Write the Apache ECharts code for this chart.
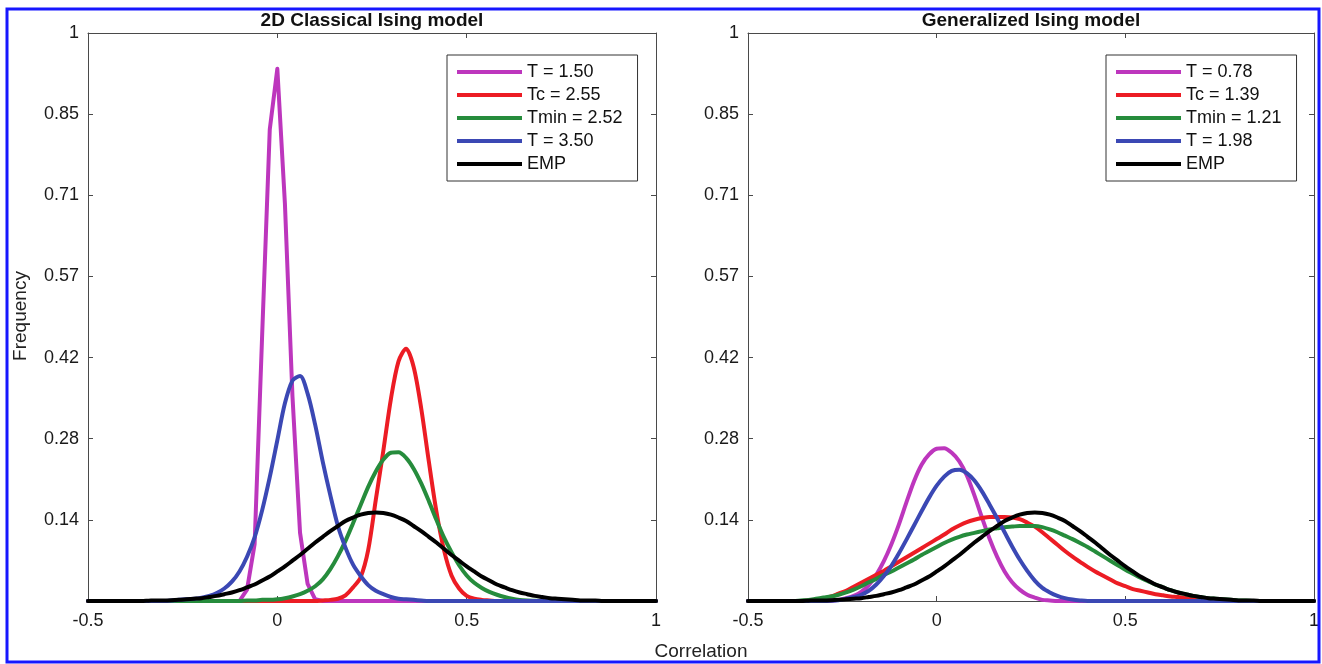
<!DOCTYPE html>
<html><head><meta charset="utf-8">
<script src="https://cdn.jsdelivr.net/npm/echarts@6/dist/echarts.min.js"></script>
<style>html,body{margin:0;padding:0;background:#fff}#c{width:1322px;height:664px}</style>
</head><body><div id="c"></div>
<script>
// ---------- data ----------
const corr = [
 -0.50,-0.48,-0.46,-0.44,-0.42,
 -0.40,-0.38,-0.36,-0.34,-0.32,
 -0.30,-0.28,-0.26,-0.24,-0.22,
 -0.20,-0.18,-0.16,-0.14,-0.12,
 -0.10,-0.08,-0.06,-0.04,-0.02,
 0.00,0.02,0.04,0.06,0.08,
 0.10,0.12,0.14,0.16,0.18,
 0.20,0.22,0.24,0.26,0.28,
 0.30,0.32,0.34,0.36,0.38,
 0.40,0.42,0.44,0.46,0.48,
 0.50,0.52,0.54,0.56,0.58,
 0.60,0.62,0.64,0.66,0.68,
 0.70,0.72,0.74,0.76,0.78,
 0.80,0.82,0.84,0.86,0.88,
 0.90,0.92,0.94,0.96,0.98,
 1.00];

const classicalT150 = [
 0,0,0,0,0, 0,0,0,0,0, 0,0,0,0,0, 0,0,0,0,0,
 0,0.02,0.10,0.47,0.83,
 0.937,0.70,0.36,0.12,0.03,
 0.003,0,0,0,0,
 0,0,0,0,0, 0,0,0,0,0, 0,0,0,0,0, 0,0,0,0,0,
 0,0,0,0,0, 0,0,0,0,0, 0,0,0,0,0, 0,0,0,0,0,
 0];
const classicalTc = [
 0,0,0,0,0, 0,0,0,0,0, 0,0,0,0,0, 0,0,0,0,0, 0,0,0,0,0,
 0,0,0,0,0,
 0,0.001,0.002,0.004,0.010,
 0.024,0.042,0.090,0.178,0.265,
 0.356,0.422,0.444,0.412,0.339,
 0.246,0.158,0.090,0.045,0.022,
 0.009,0.004,0.002,0.001,0,
 0,0,0,0,0, 0,0,0,0,0, 0,0,0,0,0, 0,0,0,0,0,
 0];
const classicalTmin = [
 0,0,0,0,0, 0,0,0,0,0, 0,0,0,0,0, 0,0,0,0,0,
 0,0.001,0.001,0.002,0.002,
 0.003,0.005,0.008,0.012,0.018,
 0.026,0.038,0.056,0.079,0.106,
 0.137,0.169,0.201,0.228,0.249,
 0.261,0.262,0.252,0.233,0.207,
 0.176,0.143,0.112,0.086,0.063,
 0.045,0.032,0.023,0.016,0.011,
 0.007,0.004,0.002,0.001,0.0005,
 0,0,0,0,0, 0,0,0,0,0, 0,0,0,0,0,
 0];
const classicalT350 = [
 0,0,0,0,0, 0,0,0,0,0,
 0,0.001,0.002,0.003,0.004,
 0.006,0.009,0.014,0.022,0.034,
 0.052,0.078,0.112,0.160,0.218,
 0.283,0.348,0.388,0.396,0.365,
 0.310,0.245,0.186,0.132,0.094,
 0.064,0.044,0.028,0.018,0.012,
 0.007,0.004,0.003,0.002,0.001,
 0,0,0,0,0, 0,0,0,0,0, 0,0,0,0,0, 0,0,0,0,0, 0,0,0,0,0, 0,0,0,0,0,
 0];
const empValues = [
 0,0,0,0,0,
 0,0,0,0.0005,0.001,
 0.001,0.0013,0.002,0.003,0.004,
 0.005,0.007,0.009,0.012,0.015,
 0.019,0.024,0.029,0.036,0.043,
 0.052,0.061,0.071,0.081,0.092,
 0.103,0.113,0.123,0.132,0.141,
 0.147,0.152,0.155,0.156,0.155,
 0.152,0.147,0.141,0.132,0.123,
 0.113,0.103,0.092,0.081,0.071,
 0.061,0.052,0.043,0.036,0.029,
 0.024,0.019,0.015,0.012,0.009,
 0.007,0.005,0.004,0.003,0.002,
 0.001,0.001,0.001,0,0,
 0,0,0,0,0,
 0];

const generalizedT078 = [
 0,0,0,0,0, 0,0,0,0,0,
 0,0.0005,0.002,0.005,0.009,
 0.016,0.028,0.046,0.070,0.100,
 0.135,0.174,0.211,0.240,0.258,
 0.268,0.269,0.261,0.246,0.221,
 0.186,0.147,0.110,0.078,0.052,
 0.033,0.020,0.011,0.006,0.002,
 0.001,0,0,0,0,
 0,0,0,0,0, 0,0,0,0,0, 0,0,0,0,0, 0,0,0,0,0, 0,0,0,0,0, 0,0,0,0,0,
 0];
const generalizedTc = [
 0,0,0,0,0,
 0,0,0,0.001,0.002,
 0.004,0.008,0.013,0.018,0.025,
 0.032,0.039,0.046,0.053,0.061,
 0.069,0.077,0.085,0.093,0.101,
 0.109,0.117,0.126,0.133,0.139,
 0.143,0.146,0.148,0.148,0.148,
 0.147,0.144,0.138,0.131,0.121,
 0.110,0.099,0.088,0.078,0.069,
 0.060,0.052,0.045,0.038,0.031,
 0.026,0.021,0.018,0.015,0.012,
 0.010,0.008,0.007,0.005,0.004,
 0.003,0.003,0.002,0.001,0.001,
 0,0,0,0,0,
 0,0,0,0,0,
 0];
const generalizedTmin = [
 0,0,0,0,0,
 0,0,0.001,0.002,0.004,
 0.006,0.008,0.011,0.015,0.020,
 0.026,0.033,0.039,0.046,0.052,
 0.059,0.066,0.073,0.081,0.088,
 0.095,0.102,0.108,0.113,0.117,
 0.120,0.123,0.126,0.128,0.130,
 0.131,0.132,0.132,0.132,0.130,
 0.126,0.121,0.115,0.109,0.102,
 0.095,0.087,0.079,0.071,0.063,
 0.055,0.048,0.041,0.035,0.029,
 0.024,0.019,0.015,0.012,0.009,
 0.007,0.005,0.004,0.003,0.002,
 0.001,0.001,0,0,0,
 0,0,0,0,0,
 0];
const generalizedT198 = [
 0,0,0,0,0, 0,0,0,0,0,
 0,0.0005,0.0015,0.004,0.007,
 0.011,0.018,0.029,0.044,0.062,
 0.084,0.108,0.133,0.158,0.182,
 0.203,0.219,0.229,0.231,0.225,
 0.212,0.193,0.170,0.146,0.121,
 0.096,0.073,0.053,0.036,0.023,
 0.015,0.009,0.005,0.0025,0.001,
 0,0,0,0,0, 0,0,0,0,0, 0,0,0,0,0, 0,0,0,0,0, 0,0,0,0,0, 0,0,0,0,0,
 0];

const yTickLabels = ['', '0.14', '0.28', '0.42', '0.57', '0.71', '0.85', '1'];
const panelTitles = ['2D Classical Ising model', 'Generalized Ising model'];
const leftNames = ['T = 1.50', 'Tc = 2.55', 'Tmin = 2.52', 'T = 3.50', 'EMP'];
const rightNames = ['T = 0.78', 'Tc = 1.39', 'Tmin = 1.21', 'T = 1.98', 'EMP'];
const leftValues = [classicalT150, classicalTc, classicalTmin, classicalT350, empValues];
const rightValues = [generalizedT078, generalizedTc, generalizedTmin, generalizedT198, empValues];
const xAxisName = 'Correlation';
const yAxisName = 'Frequency';

// ---------- styles ----------
const colors = ['#bd36bd', '#ec1c24', '#268c3c', '#3b48b4', '#000000'];
const FONT = '"Liberation Sans", Arial, Helvetica, sans-serif';
const axisColor = '#4a4a4a';
const grids = [
  {left: 88, top: 33, width: 568, height: 568},
  {left: 748, top: 33, width: 567, height: 568}
];

function xAx(g, pos) {
  return {type: 'value', gridIndex: g, position: pos, min: -0.5, max: 1, interval: 0.5,
    axisLine: {show: true, onZero: false, lineStyle: {color: axisColor, width: 1}},
    axisTick: {show: true, inside: true, length: 5, lineStyle: {color: axisColor}},
    axisLabel: {show: pos === 'bottom', fontSize: 18, color: '#1a1a1a', margin: 11, fontFamily: FONT},
    splitLine: {show: false}};
}
function yAx(g, pos) {
  return {type: 'value', gridIndex: g, position: pos, min: 0, max: 1, interval: 1 / 7,
    axisLine: {show: true, onZero: false, lineStyle: {color: axisColor, width: 1}},
    axisTick: {show: true, inside: true, length: 5, lineStyle: {color: axisColor}},
    axisLabel: {show: pos === 'left', fontSize: 18, color: '#1a1a1a', margin: 9, fontFamily: FONT,
      formatter: v => yTickLabels[Math.round(v * 7)]},
    splitLine: {show: false}};
}

const series = [];
[leftValues, rightValues].forEach((vals, g) => {
  const names = g === 0 ? leftNames : rightNames;
  vals.forEach((arr, k) => {
    series.push({
      type: 'line', name: names[k], xAxisIndex: 2 * g, yAxisIndex: 2 * g,
      data: corr.map((x, i) => [x, arr[i]]),
      showSymbol: false, symbol: 'none', clip: false,
      smooth: (g === 0 && k === 0) ? false : 0.3,
      lineStyle: {color: colors[k], width: 4, join: 'round', cap: 'round'},
      itemStyle: {color: colors[k]},
      z: 2 + k
    });
  });
});

function legendFor(names, left) {
  return {data: names, orient: 'vertical', left: left, top: 55, selectedMode: false,
    icon: 'rect', itemWidth: 65, itemHeight: 4, itemGap: 3,
    padding: [7, 15, 7, 10], borderColor: '#333', borderWidth: 1, backgroundColor: '#fff',
    textStyle: {fontSize: 18, color: '#111', fontFamily: FONT, lineHeight: 20}};
}

const chart = echarts.init(document.getElementById('c'), null, {renderer: 'canvas'});
chart.setOption({
  animation: false,
  backgroundColor: '#fff',
  grid: grids,
  xAxis: [xAx(0, 'bottom'), xAx(0, 'top'), xAx(1, 'bottom'), xAx(1, 'top')],
  yAxis: [yAx(0, 'left'), yAx(0, 'right'), yAx(1, 'left'), yAx(1, 'right')],
  legend: [legendFor(leftNames, 447), legendFor(rightNames, 1106)],
  series: series,
  graphic: [
    {type: 'rect', shape: {x: 7, y: 9, width: 1312, height: 653}, silent: true,
      style: {fill: 'none', stroke: '#1717ff', lineWidth: 3}, z: 100},
    {type: 'text', x: 372, y: 21, style: {text: panelTitles[0], font: 'bold 19px ' + FONT, fill: '#111', align: 'center', verticalAlign: 'middle'}},
    {type: 'text', x: 1031, y: 21, style: {text: panelTitles[1], font: 'bold 19px ' + FONT, fill: '#111', align: 'center', verticalAlign: 'middle'}},
    {type: 'text', x: 701, y: 652, style: {text: xAxisName, font: '19px ' + FONT, fill: '#222', align: 'center', verticalAlign: 'middle'}},
    {type: 'text', x: 21, y: 316, rotation: Math.PI / 2, style: {text: yAxisName, font: '19px ' + FONT, fill: '#222', align: 'center', verticalAlign: 'middle'}}
  ]
});
</script></body></html>
